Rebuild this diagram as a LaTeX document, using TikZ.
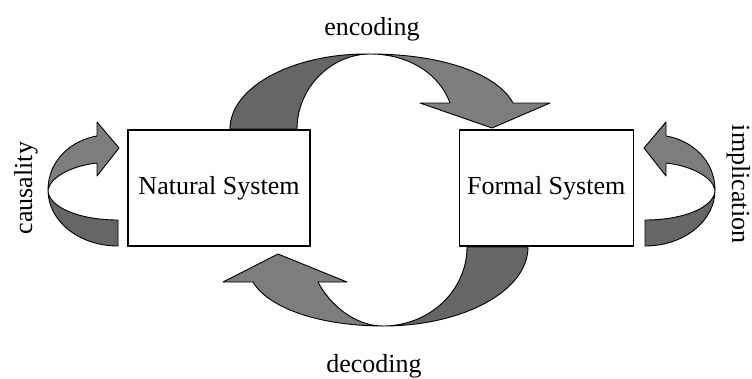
\documentclass[tikz,border=0pt]{standalone}
\usepackage{fontspec}
\setmainfont{Liberation Serif}
\usetikzlibrary{positioning}

\begin{document}
\begin{tikzpicture}[x=1pt,y=-1pt,font=\fontsize{26}{31}\selectfont,
                    system/.style={draw,line width=1.2pt,inner sep=0pt,
                                   minimum height=116pt},
                    darkpart/.style={fill=black!60,draw=black,line width=0.9pt,
                                     line join=round},
                    lightpart/.style={fill=black!51,draw=black,line width=0.9pt,
                                      line join=round}]

  \useasboundingbox (0,0) rectangle (752,378);

  \node[system,minimum width=182pt] (N) at (219,188)        {Natural System};
  \node[system,minimum width=174pt] (F) [right=148pt of N]  {Formal System};

  \node[anchor=base]           (E) at (372,35)  {encoding};
  \node[anchor=base]           (D) at (374,372) {decoding};
  \node[anchor=base,rotate=90]  (C) at (32,188)  {causality};
  \node[anchor=base,rotate=-90] (I) at (732,184) {implication};

  % encoding
  \filldraw[darkpart] (230,129) .. controls (230,87) and (293,53) .. (370,54)
    .. controls (331,54) and (297,88) .. (297,129) -- cycle;
  \filldraw[lightpart] (370,54) .. controls (445,54) and (498,75) .. (513,103)
    -- (550,103) -- (492,128) -- (420,103) -- (450,103)
    .. controls (440,75) and (410,54) .. (370,54) -- cycle;

  % decoding
  \filldraw[darkpart] (528,247) .. controls (528,291) and (463,326) .. (383,326)
    .. controls (429,326) and (467,291) .. (467,247) -- cycle;
  \filldraw[lightpart] (383,326) .. controls (320,326) and (268,308) .. (253,282)
    -- (223,282) -- (278,254) -- (347,282) -- (318,282)
    .. controls (330,305) and (355,326) .. (383,326) -- cycle;

  % causality and implication
  \foreach \s/\m in {0/1,763/-1}{
    \begin{scope}[shift={(\s,0)},xscale=\m]
      \filldraw[darkpart] (118,246) .. controls (79,246) and (48,221) .. (48,190)
        .. controls (48,207) and (79,220) .. (118,220) -- cycle;
      \filldraw[lightpart] (48,190) .. controls (48,160) and (72,140) .. (97,136)
        -- (97,122) -- (119,148) -- (97,176) -- (97,163)
        .. controls (70,166) and (50,178) .. (48,190) -- cycle;
    \end{scope}
  }

\end{tikzpicture}
\end{document}
